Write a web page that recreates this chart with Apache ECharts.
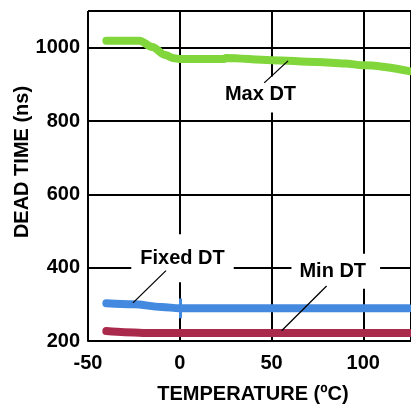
<!DOCTYPE html>
<html>
<head>
<meta charset="utf-8">
<script src="https://cdn.jsdelivr.net/npm/echarts@6/dist/echarts.min.js"></script>
<style>
html,body{margin:0;padding:0;background:#fff;}
#c{width:411px;height:407px;}
</style>
</head>
<body>
<div id="c"></div>
<script>
// Data (temperature in °C, dead time in ns)
const maxDtTemp = [-40, -22, -15, -8, -3, 0, 24, 25, 50, 75, 90, 100, 125];
const maxDtVal  = [1019, 1019, 1002, 980, 971, 969, 969, 972, 966, 961, 957, 952, 936];
const fixedDtTemp = [-40, -25, -10, 0, 50, 100, 125];
const fixedDtVal  = [303, 300, 293, 289, 289, 289, 289];
const minDtTemp = [-40, -30, -20, 0, 50, 100, 125];
const minDtVal  = [227, 224, 222, 222, 222, 222, 222];

const xTicks = [-50, 0, 50, 100];
const yTicks = [200, 400, 600, 800, 1000];

const seriesNames = ['Max DT', 'Fixed DT', 'Min DT'];
const seriesColors = ['#80D63A', '#4389E0', '#AA2A4C'];

// annotation label anchors and leader lines, in data coordinates
const labelPos = [[44, 872], [1.5, 426], [85, 390]];
const leaderFrom = [[46, 904], [-25.5, 304], [55.5, 228]];
const leaderTo = [[59, 964], [-7.5, 392], [80, 350]];
const labelPadding = [[7, 8, 9, 8], [9, 9, 19, 9], [9, 14, 6, 8]];

const FONT = 'bold 20px "Liberation Sans", Arial, sans-serif';

function pairs(xs, ys) { return xs.map((x, i) => [x, ys[i]]); }

const chart = echarts.init(document.getElementById('c'), null, {renderer: 'canvas'});

const lineCommon = {
  type: 'line', showSymbol: false, symbol: 'none', smooth: 0.35, smoothMonotone: 'x',
  z: 5
};

chart.setOption({
  animation: false,
  backgroundColor: '#fff',
  textStyle: {fontFamily: '"Liberation Sans", Arial, sans-serif'},
  grid: {left: 88, top: 11, right: -2, bottom: 66, containLabel: false},
  xAxis: {
    type: 'value', min: -50, max: 126, interval: 50,
    axisLine: {show: true, onZero: false, lineStyle: {color: '#000', width: 2}},
    axisTick: {show: false},
    splitLine: {show: true, lineStyle: {color: '#000', width: 2}},
    axisLabel: {
      color: '#000', fontSize: 20, fontWeight: 'bold', margin: 12,
      showMaxLabel: false,
      formatter: v => xTicks.indexOf(v) >= 0 ? String(v) : ''
    }
  },
  yAxis: {
    type: 'value', min: 200, max: 1100, interval: 200,
    axisLine: {show: true, lineStyle: {color: '#000', width: 2}},
    axisTick: {show: false},
    splitLine: {show: true, lineStyle: {color: '#000', width: 2}},
    axisLabel: {
      color: '#000', fontSize: 20, fontWeight: 'bold', margin: 8,
      showMaxLabel: false,
      formatter: v => yTicks.indexOf(v) >= 0 ? String(v) : ''
    }
  },
  series: [
    Object.assign({}, lineCommon, {
      name: seriesNames[0], data: pairs(maxDtTemp, maxDtVal),
      lineStyle: {color: seriesColors[0], width: 8, cap: 'round', join: 'round'}
    }),
    Object.assign({}, lineCommon, {
      name: seriesNames[1], data: pairs(fixedDtTemp, fixedDtVal),
      lineStyle: {color: seriesColors[1], width: 8, cap: 'round', join: 'round'},
      markLine: {
        silent: true, symbol: 'none', label: {show: false},
        lineStyle: {color: seriesColors[1], width: 3, type: 'solid'},
        data: [[{coord: [0, 262]}, {coord: [0, 316]}]]
      }
    }),
    Object.assign({}, lineCommon, {
      name: seriesNames[2], data: pairs(minDtTemp, minDtVal),
      lineStyle: {color: seriesColors[2], width: 8, cap: 'round', join: 'round'}
    })
  ]
});

const gfx = [];
for (let i = 0; i < seriesNames.length; i++) {
  const p = chart.convertToPixel({gridIndex: 0}, labelPos[i]);
  const a = chart.convertToPixel({gridIndex: 0}, leaderFrom[i]);
  const b = chart.convertToPixel({gridIndex: 0}, leaderTo[i]);
  gfx.push({
    type: 'text', z: 100, x: p[0], y: p[1],
    style: {
      text: seriesNames[i], font: FONT, fill: '#000',
      align: 'center', verticalAlign: 'middle',
      backgroundColor: '#fff', padding: labelPadding[i]
    }
  });
  gfx.push({
    type: 'line', z: 101,
    shape: {x1: a[0], y1: a[1], x2: b[0], y2: b[1]},
    style: {stroke: '#000', lineWidth: 1.3}
  });
}
// axis titles
gfx.push({
  type: 'text', z: 100, x: 253, y: 394,
  style: {text: 'TEMPERATURE (ºC)', font: FONT, fill: '#000', align: 'center', verticalAlign: 'middle'}
});
gfx.push({
  type: 'text', z: 100, x: 22, y: 162, rotation: Math.PI / 2,
  style: {text: 'DEAD TIME (ns)', font: FONT, fill: '#000', align: 'center', verticalAlign: 'middle'}
});
chart.setOption({graphic: gfx});
</script>
</body>
</html>
